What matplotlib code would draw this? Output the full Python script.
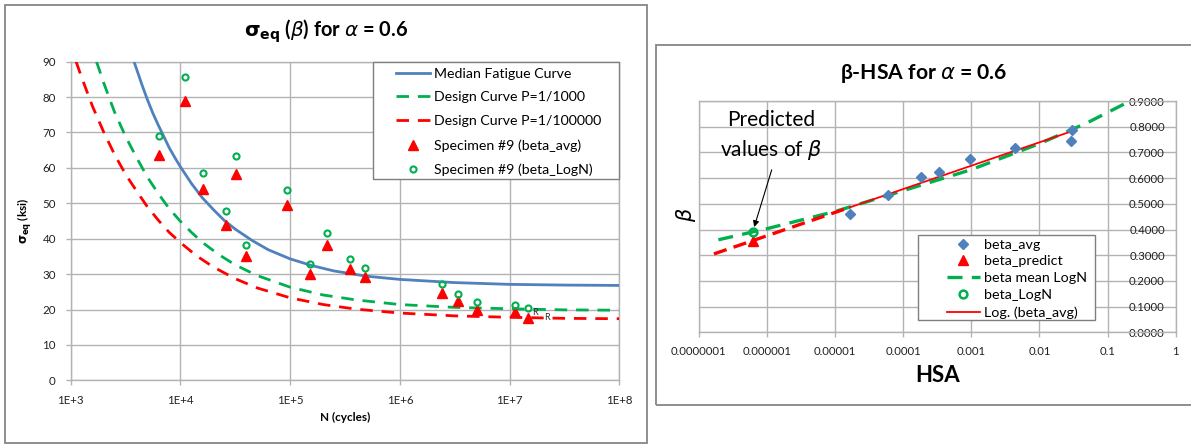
import numpy as np
import matplotlib
matplotlib.use('Agg')
import matplotlib.pyplot as plt
from matplotlib.lines import Line2D
from matplotlib.patches import Rectangle
from matplotlib.ticker import FixedLocator, FixedFormatter, NullLocator

plt.rcParams['font.family'] = ['Lato', 'DejaVu Sans']
plt.rcParams['mathtext.fontset'] = 'dejavusans'

W, H, DPI = 1191, 445, 100

# ---------------- Left chart data: sigma_eq vs N ----------------
spec_N = [6.35e3, 1.1e4, 1.61e4, 2.6e4, 3.18e4, 3.94e4, 9.33e4, 1.51e5,
          2.18e5, 3.52e5, 4.79e5, 2.44e6, 3.38e6, 5.0e6, 1.12e7, 1.47e7]
spec_S_avg = [63.6, 78.9, 54.0, 43.8, 58.4, 35.0, 49.6, 30.0,
              38.1, 31.5, 29.2, 24.8, 22.3, 20.0, 19.2, 17.6]
spec_S_logN = [69.1, 85.6, 58.7, 47.9, 63.5, 38.1, 53.8, 32.9,
               41.7, 34.2, 31.7, 27.3, 24.4, 22.0, 21.3, 20.3]

median_N = [3.78e3, 4.47e3, 5.0e3, 5.6e3, 6.3e3, 7.1e3, 7.9e3, 8.9e3, 1.0e4,
            1.26e4, 1.58e4, 2.0e4, 2.5e4, 3.16e4, 4.5e4, 6.3e4, 1.0e5, 1.58e5,
            2.5e5, 5.0e5, 1.0e6, 3.16e6, 1.0e7, 3.16e7, 1.0e8]
median_S = [90.0, 83.4, 79.3, 75.5, 72.0, 68.7, 65.7, 62.9, 60.3,
            55.6, 51.6, 48.2, 45.2, 42.7, 39.5, 36.9, 34.3, 32.4,
            30.9, 29.4, 28.5, 27.6, 27.1, 26.9, 26.8]

p1000_N = [1.72e3, 2.0e3, 2.5e3, 3.16e3, 4.0e3, 5.0e3, 6.3e3, 7.9e3, 1.0e4,
           1.26e4, 1.58e4, 2.24e4, 3.16e4, 5.0e4, 1.0e5, 2.0e5, 4.0e5, 1.0e6,
           3.16e6, 1.0e7, 3.16e7, 1.0e8]
p1000_S = [90.0, 84.0, 75.9, 68.9, 62.8, 57.4, 52.7, 48.5, 44.9,
           41.8, 39.0, 35.5, 32.6, 29.6, 26.3, 24.1, 22.7, 21.4,
           20.6, 20.2, 19.9, 19.8]

p100000_N = [1.12e3, 1.26e3, 1.58e3, 2.0e3, 2.5e3, 3.16e3, 4.0e3, 5.0e3, 6.3e3,
             7.9e3, 1.0e4, 1.41e4, 2.0e4, 3.16e4, 5.0e4, 1.0e5, 2.0e5, 4.0e5,
             1.0e6, 3.16e6, 1.0e7, 3.16e7, 1.0e8]
p100000_S = [90.0, 85.5, 77.4, 70.1, 63.9, 58.2, 53.4, 49.0, 45.2,
             41.8, 38.9, 35.1, 32.0, 28.7, 26.1, 23.3, 21.4, 20.1,
             19.0, 18.2, 17.8, 17.5, 17.4]

runout_N = [1.6e7, 2.07e7]
runout_S = [19.1, 17.8]

left_xticks = [1e3, 1e4, 1e5, 1e6, 1e7, 1e8]
left_xticklabels = ['1E+3', '1E+4', '1E+5', '1E+6', '1E+7', '1E+8']
left_yticks = [0, 10, 20, 30, 40, 50, 60, 70, 80, 90]

# ---------------- Right chart data: beta vs HSA ----------------
hsa_avg = [1.65e-5, 6.08e-5, 1.81e-4, 3.35e-4, 9.64e-4, 4.34e-3, 2.89e-2, 3.03e-2]
beta_avg = [0.460, 0.534, 0.603, 0.622, 0.675, 0.717, 0.746, 0.787]

hsa_pred = [6.22e-7]
beta_predict = [0.356]
beta_logN = [0.391]

mean_hsa = [1.95e-7, 1.0e-6, 1.0e-5, 1.0e-4, 1.0e-3, 1.0e-2, 5.0e-2, 2.14e-1]
mean_beta = [0.360, 0.403, 0.470, 0.551, 0.633, 0.734, 0.815, 0.900]

trend_fc_hsa = [1.68e-7, 1.65e-5]
trend_fc_beta = [0.305, 0.486]
trend_hsa = [1.65e-5, 3.03e-2]
trend_beta = [0.486, 0.783]

right_xticks = [1e-7, 1e-6, 1e-5, 1e-4, 1e-3, 1e-2, 1e-1, 1]
right_xticklabels = ['0.0000001', '0.000001', '0.00001', '0.0001', '0.001',
                     '0.01', '0.1', '1']
right_yticks = [0.0, 0.1, 0.2, 0.3, 0.4, 0.5, 0.6, 0.7, 0.8, 0.9]

# ---------------- styles ----------------
BLUE = '#4F81BD'
GREEN = '#00B050'
RED = '#FF0000'
GRID = '#b3b3b3'
FRAME = '#868686'


def fx(x):
    return x / W


def fy(y):
    return 1 - y / H


def pt(p):
    return p * 72.0 / DPI


fig = plt.figure(figsize=(W / DPI, H / DPI), dpi=DPI)
fig.patch.set_facecolor('white')

# outer frames
fig.patches.append(Rectangle((fx(5), fy(443)), fx(647) - fx(5), fy(5) - fy(443),
                             transform=fig.transFigure, fill=False,
                             ec=FRAME, lw=1.3, zorder=0))
fig.patches.append(Rectangle((fx(656), fy(405)), fx(1200) - fx(656), fy(45) - fy(405),
                             transform=fig.transFigure, fill=False,
                             ec=FRAME, lw=1.3, zorder=0, clip_on=False))

# ================= LEFT CHART =================
L0, L1, T0, B0 = 70.7, 619.3, 61.7, 380.3
ax1 = fig.add_axes([fx(L0), fy(B0), fx(L1) - fx(L0), fy(T0) - fy(B0)])
ax1.set_xscale('log')
ax1.set_xlim(1e3, 1e8)
ax1.set_ylim(0, 90)
ax1.xaxis.set_major_locator(FixedLocator(left_xticks))
ax1.xaxis.set_major_formatter(FixedFormatter(left_xticklabels))
ax1.xaxis.set_minor_locator(NullLocator())
ax1.set_yticks(left_yticks)
ax1.grid(True, which='major', color=GRID, lw=1.0)
ax1.set_axisbelow(True)
for s in ax1.spines.values():
    s.set_color(GRID)
    s.set_linewidth(1.0)
ax1.tick_params(axis='both', colors=GRID, labelcolor='#222222', length=3.5,
                width=1.0, labelsize=8.3)
ax1.tick_params(axis='y', pad=pt(10))
ax1.tick_params(axis='x', pad=pt(10))

ax1.plot(median_N, median_S, color=BLUE, lw=2.0, solid_capstyle='butt',
         solid_joinstyle='round', zorder=3)
ax1.plot(p1000_N, p1000_S, color=GREEN, lw=2.0, dashes=(4.5, 3.2), zorder=3)
ax1.plot(p100000_N, p100000_S, color=RED, lw=2.0, dashes=(4.5, 3.2), zorder=3)
ax1.plot(spec_N, spec_S_avg, ls='none', marker='^', ms=6.5, color=RED,
         mec=RED, zorder=4)
ax1.plot(spec_N, spec_S_logN, ls='none', marker='o', ms=4.4, mfc='none',
         mec=GREEN, mew=1.5, zorder=4)
for n, s in zip(runout_N, runout_S):
    ax1.text(n, s, 'R', fontsize=6.5, color='#333333', ha='left', va='center',
             zorder=5)

ax1.set_xlabel('N (cycles)', fontsize=8.5, fontweight='bold', labelpad=pt(6))
ax1.set_ylabel(r'$\mathbf{\sigma_{eq}}$ (ksi)', fontsize=8.5, fontweight='bold',
               labelpad=pt(8))

fig.text(fx(326.5), fy(37), r'$\mathbf{\sigma_{eq}}$ ($\beta$) for $\alpha$ = 0.6',
         fontsize=14.4, fontweight='bold', ha='center', va='baseline')

# left legend (frame drawn separately)
ax1.add_patch(Rectangle(((372.7 - L0) / (L1 - L0), (B0 - 179) / (B0 - T0)),
                        (619 - 372.7) / (L1 - L0), (179 - 61.7) / (B0 - T0),
                        transform=ax1.transAxes, fc='white', ec='#7f7f7f',
                        lw=1.0, zorder=6, clip_on=False))
lfs = 10.2
lfs_px = lfs * DPI / 72.0
h1 = [Line2D([], [], color=BLUE, lw=2.0),
      Line2D([], [], color=GREEN, lw=2.0, dashes=(4.5, 3.2)),
      Line2D([], [], color=RED, lw=2.0, dashes=(4.5, 3.2)),
      Line2D([], [], ls='none', marker='^', ms=6.5, color=RED),
      Line2D([], [], ls='none', marker='o', ms=4.4, mfc='none', mec=GREEN, mew=1.5)]
lab1 = ['Median Fatigue Curve', 'Design Curve P=1/1000', 'Design Curve P=1/100000',
        'Specimen #9 (beta_avg)', 'Specimen #9 (beta_LogN)']
leg1 = ax1.legend(h1, lab1, loc='upper left',
                  bbox_to_anchor=((396 - L0) / (L1 - L0), (B0 - 67.5) / (B0 - T0)),
                  frameon=False, borderpad=0, borderaxespad=0, fontsize=lfs,
                  handlelength=34 / lfs_px, handletextpad=4 / lfs_px,
                  labelspacing=0.84)
leg1.set_zorder(7)

# ================= RIGHT CHART =================
R0, R1, RT, RB = 698.6, 1175.8, 101.0, 332.3
ax2 = fig.add_axes([fx(R0), fy(RB), fx(R1) - fx(R0), fy(RT) - fy(RB)])
ax2.set_xscale('log')
ax2.set_xlim(1e-7, 1)
ax2.set_ylim(0, 0.9)
ax2.xaxis.set_major_locator(FixedLocator(right_xticks))
ax2.xaxis.set_major_formatter(FixedFormatter(right_xticklabels))
ax2.xaxis.set_minor_locator(NullLocator())
ax2.yaxis.tick_right()
ax2.set_yticks(right_yticks)
ax2.set_yticklabels(['{:.4f}'.format(v) for v in right_yticks], ha='right')
ax2.grid(True, which='major', color=GRID, lw=1.0)
ax2.set_axisbelow(True)
for s in ax2.spines.values():
    s.set_color(GRID)
    s.set_linewidth(1.0)
ax2.tick_params(axis='x', colors=GRID, labelcolor='#222222', length=3.5,
                width=1.0, labelsize=8.2, pad=pt(9))
ax2.tick_params(axis='y', colors=GRID, labelcolor='#222222', length=0,
                direction='in', labelsize=8.2, pad=-pt(11))

ax2.plot(mean_hsa, mean_beta, color=GREEN, lw=2.4, dashes=(4.5, 2.8), zorder=3)
ax2.plot(trend_fc_hsa, trend_fc_beta, color=RED, lw=2.4, dashes=(4.0, 2.2), zorder=3)
ax2.plot(trend_hsa, trend_beta, color=RED, lw=1.3, zorder=3)
ax2.plot(hsa_avg, beta_avg, ls='none', marker='D', ms=4.6, color=BLUE, zorder=4)
ax2.plot(hsa_pred, beta_predict, ls='none', marker='^', ms=6.5, color=RED, zorder=4)
ax2.plot(hsa_pred, beta_logN, ls='none', marker='o', ms=5.6, mfc='none',
         mec=GREEN, mew=1.8, zorder=5)

ax2.set_xlabel('HSA', fontsize=16, fontweight='bold', labelpad=pt(8))
fig.text(fx(685.6), fy(215), r'$\beta$', fontsize=15, rotation=90,
         ha='center', va='center')

fig.text(fx(924), fy(79.3), r'β-HSA for $\alpha$ = 0.6', fontsize=15.2,
         fontweight='bold', ha='center', va='baseline')

# annotation
fig.text(fx(770.7), fy(136), 'Predicted\nvalues of $\\beta$', fontsize=15,
         ha='center', va='center', linespacing=1.4, zorder=6)
ax2.annotate('', xy=(hsa_pred[0], beta_logN[0]), xycoords='data',
             xytext=(pt(19), pt(62)), textcoords='offset points',
             arrowprops=dict(arrowstyle='-|>', color='black', lw=0.8,
                             mutation_scale=9, shrinkA=0, shrinkB=pt(5)),
             zorder=6)

# right legend
ax2.add_patch(Rectangle(((918.3 - R0) / (R1 - R0), (RB - 320) / (RB - RT)),
                        (1095 - 918.3) / (R1 - R0), (320 - 235) / (RB - RT),
                        transform=ax2.transAxes, fc='white', ec='#7f7f7f',
                        lw=1.0, zorder=6, clip_on=False))
rfs = 10.3
rfs_px = rfs * DPI / 72.0
h2 = [Line2D([], [], ls='none', marker='D', ms=4.6, color=BLUE),
      Line2D([], [], ls='none', marker='^', ms=6.5, color=RED),
      Line2D([], [], color=GREEN, lw=2.4, dashes=(4.5, 2.8)),
      Line2D([], [], ls='none', marker='o', ms=5.6, mfc='none', mec=GREEN, mew=1.8),
      Line2D([], [], color=RED, lw=1.3)]
lab2 = ['beta_avg', 'beta_predict', 'beta mean LogN', 'beta_LogN', 'Log. (beta_avg)']
leg2 = ax2.legend(h2, lab2, loc='upper left',
                  bbox_to_anchor=((946.7 - R0) / (R1 - R0), (RB - 238.5) / (RB - RT)),
                  frameon=False, borderpad=0, borderaxespad=0, fontsize=rfs,
                  handlelength=33.3 / rfs_px, handletextpad=4 / rfs_px,
                  labelspacing=0.34)
leg2.set_zorder(7)

fig.savefig('out.png', dpi=DPI, facecolor='white')
